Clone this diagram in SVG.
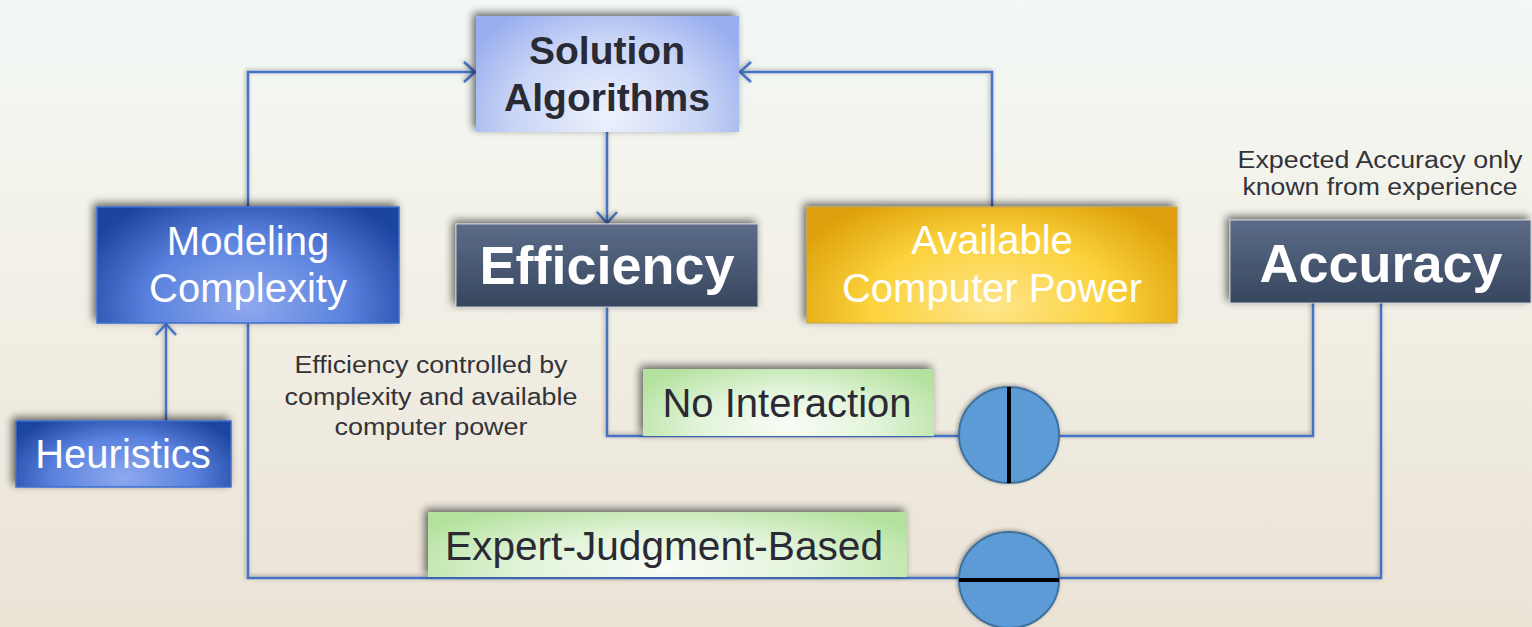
<svg xmlns="http://www.w3.org/2000/svg" width="1532" height="627" viewBox="0 0 1532 627">
<defs>
<linearGradient id="bg" x1="0" y1="0" x2="0" y2="1">
<stop offset="0" stop-color="#f2f8f6"/>
<stop offset="0.35" stop-color="#f3f2e9"/>
<stop offset="1" stop-color="#ebe3d6"/>
</linearGradient>
<radialGradient id="gSol" cx="0.5" cy="0.85" r="0.6" gradientTransform="translate(0.5,0.85) scale(1,1.8) translate(-0.5,-0.85)">
<stop offset="0" stop-color="#eef2fd"/>
<stop offset="0.6" stop-color="#c9d5f6"/>
<stop offset="1" stop-color="#98aeee"/>
</radialGradient>
<radialGradient id="gBlue" cx="0.5" cy="0.85" r="0.6" gradientTransform="translate(0.5,0.85) scale(1,1.8) translate(-0.5,-0.85)">
<stop offset="0" stop-color="#8ea9ee"/>
<stop offset="0.55" stop-color="#5a82de"/>
<stop offset="1" stop-color="#1d449f"/>
</radialGradient>
<linearGradient id="gDark" x1="0" y1="0" x2="0" y2="1">
<stop offset="0" stop-color="#5c6c88"/>
<stop offset="1" stop-color="#37465e"/>
</linearGradient>
<radialGradient id="gGold" cx="0.5" cy="0.85" r="0.6" gradientTransform="translate(0.5,0.85) scale(1,1.8) translate(-0.5,-0.85)">
<stop offset="0" stop-color="#fee58a"/>
<stop offset="0.55" stop-color="#fbd23c"/>
<stop offset="1" stop-color="#dd9f08"/>
</radialGradient>
<radialGradient id="gGreen" cx="0.5" cy="0.85" r="0.6" gradientTransform="translate(0.5,0.85) scale(1,1.8) translate(-0.5,-0.85)">
<stop offset="0" stop-color="#f8fcf6"/>
<stop offset="0.5" stop-color="#e2f4da"/>
<stop offset="1" stop-color="#b4e29e"/>
</radialGradient>
<filter id="sh" x="-10%" y="-20%" width="120%" height="140%">
<feGaussianBlur in="SourceAlpha" stdDeviation="4"/>
<feOffset dx="-3" dy="-3" result="b"/>
<feComponentTransfer><feFuncA type="linear" slope="0.6"/></feComponentTransfer>
<feMerge><feMergeNode/><feMergeNode in="SourceGraphic"/></feMerge>
</filter>
<filter id="lsh" x="-5%" y="-5%" width="110%" height="110%">
<feGaussianBlur in="SourceAlpha" stdDeviation="2"/>
<feOffset dx="-1" dy="-1"/>
<feComponentTransfer><feFuncA type="linear" slope="0.35"/></feComponentTransfer>
<feMerge><feMergeNode/><feMergeNode in="SourceGraphic"/></feMerge>
</filter>
<marker id="arr" markerUnits="userSpaceOnUse" markerWidth="16" markerHeight="24" refX="13" refY="12" orient="auto">
<path d="M2,2 L13,12 L2,22" fill="none" stroke="#4472c4" stroke-width="2.5"/>
</marker>
</defs>
<style>
.conn{fill:none;stroke:#4472c4;stroke-width:2.5}
.t{font-family:"Liberation Sans",Arial,sans-serif;text-anchor:middle}
.w{fill:#ffffff}
.d{fill:#2a2a35}
.big{font-size:40px}
.bold{font-weight:bold}
.small{font-size:23px;fill:#333338}
.circ{fill:#5b9bd5;stroke:#41719c;stroke-width:2}
</style>
<rect x="0" y="0" width="1532" height="627" fill="url(#bg)"/>
<g id="connectors" filter="url(#lsh)">
<path class="conn" d="M248,207 V72 H475" marker-end="url(#arr)"/>
<path class="conn" d="M992,207 V72 H740" marker-end="url(#arr)"/>
<path class="conn" d="M607,132 V223" marker-end="url(#arr)"/>
<path class="conn" d="M166,421 V324" marker-end="url(#arr)"/>
<path class="conn" d="M607,307 V436 H1313 V303"/>
<path class="conn" d="M248,323 V578 H1381 V303"/>
</g>
<g id="solution-algorithms">
<rect x="476" y="16" width="263" height="116" fill="url(#gSol)" filter="url(#sh)"/>
<text class="t d bold" style="font-size:39px" x="607" y="64">Solution</text>
<text class="t d bold" style="font-size:39px" x="607" y="111">Algorithms</text>
</g>
<g id="modeling-complexity">
<rect x="97" y="207" width="302" height="116" fill="url(#gBlue)" stroke="#3f6fd0" stroke-width="1.5" filter="url(#sh)"/>
<text class="t w big" x="248" y="255">Modeling</text>
<text class="t w big" x="248" y="302">Complexity</text>
</g>
<g id="efficiency">
<rect x="456" y="224" width="302" height="83" fill="url(#gDark)" stroke="#c8ccd4" stroke-width="1" filter="url(#sh)"/>
<text class="t w bold" style="font-size:54px" x="607" y="284">Efficiency</text>
</g>
<g id="available-computer-power">
<rect x="807" y="207" width="370" height="116" fill="url(#gGold)" stroke="#c9a645" stroke-width="1" filter="url(#sh)"/>
<text class="t w big" x="992" y="254">Available</text>
<text class="t w big" x="992" y="302">Computer Power</text>
</g>
<g id="accuracy">
<rect x="1230" y="220" width="301" height="83" fill="url(#gDark)" stroke="#c8ccd4" stroke-width="1" filter="url(#sh)"/>
<text class="t w bold" style="font-size:54px" x="1381" y="282">Accuracy</text>
</g>
<g id="heuristics">
<rect x="16" y="421" width="215" height="66" fill="url(#gBlue)" stroke="#3f6fd0" stroke-width="1.5" filter="url(#sh)"/>
<text class="t w big" x="123" y="468">Heuristics</text>
</g>
<g id="efficiency-note">
<text class="t small" x="431" y="373" textLength="273" lengthAdjust="spacingAndGlyphs">Efficiency controlled by</text>
<text class="t small" x="431" y="405" textLength="293" lengthAdjust="spacingAndGlyphs">complexity and available</text>
<text class="t small" x="431" y="435" textLength="193" lengthAdjust="spacingAndGlyphs">computer power</text>
</g>
<g id="accuracy-note">
<text class="t small" x="1380" y="168" textLength="285" lengthAdjust="spacingAndGlyphs">Expected Accuracy only</text>
<text class="t small" x="1380" y="195" textLength="275" lengthAdjust="spacingAndGlyphs">known from experience</text>
</g>
<g id="no-interaction">
<rect x="643" y="369" width="291" height="67" fill="url(#gGreen)" filter="url(#sh)"/>
<text class="t d big" x="787" y="417">No Interaction</text>
</g>
<g id="expert-judgment-based">
<rect x="428" y="512" width="479" height="65" fill="url(#gGreen)" filter="url(#sh)"/>
<text class="t d big" x="664" y="560" textLength="438" lengthAdjust="spacingAndGlyphs">Expert-Judgment-Based</text>
</g>
<g id="switch-no-interaction" filter="url(#lsh)">
<ellipse class="circ" cx="1009" cy="435" rx="50" ry="48"/>
<line x1="1009" y1="387" x2="1009" y2="483" stroke="#000" stroke-width="4"/>
</g>
<g id="switch-expert" filter="url(#lsh)">
<ellipse class="circ" cx="1009" cy="580" rx="50" ry="48"/>
<line x1="959" y1="580" x2="1059" y2="580" stroke="#000" stroke-width="4"/>
</g>
</svg>
